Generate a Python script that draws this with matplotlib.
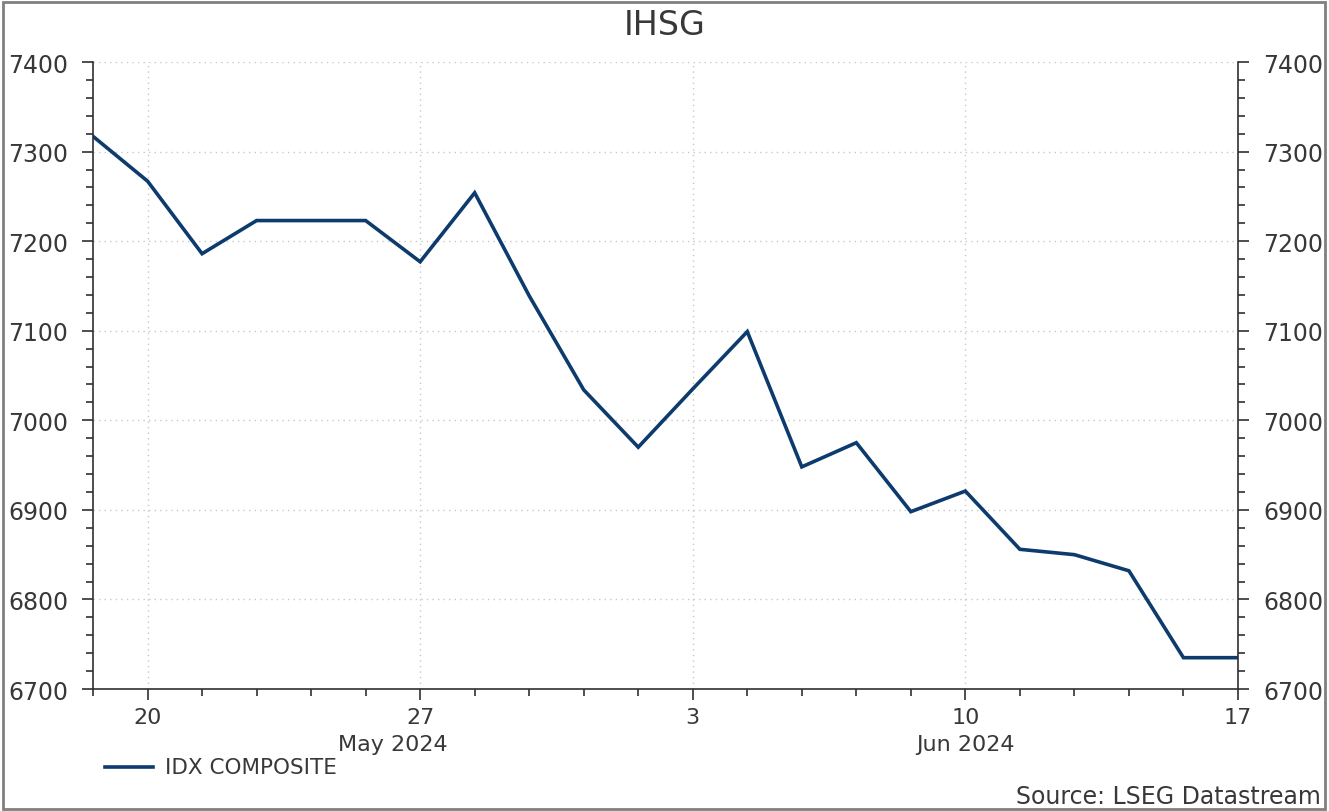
import numpy as np
import pandas as pd
import matplotlib.pyplot as plt
from matplotlib.ticker import MultipleLocator, FixedLocator
from matplotlib.lines import Line2D
from matplotlib.patches import Rectangle

plt.rcParams['font.family'] = ['DejaVu Sans']

# IDX composite daily close (business days only)
dates = ['2024-05-17', '2024-05-20', '2024-05-21', '2024-05-22', '2024-05-23',
         '2024-05-24', '2024-05-27', '2024-05-28', '2024-05-29', '2024-05-30',
         '2024-05-31', '2024-06-03', '2024-06-04', '2024-06-05', '2024-06-06',
         '2024-06-07', '2024-06-10', '2024-06-11', '2024-06-12', '2024-06-13',
         '2024-06-14', '2024-06-17']
close = [7317, 7267, 7186, 7223, 7223, 7223, 7177, 7254, 7139, 7034,
         6970, 7035, 7099, 6948, 6975, 6898, 6921, 6856, 6850, 6832,
         6735, 6735]
tick_dates = ['2024-05-20', '2024-05-27', '2024-06-03', '2024-06-10', '2024-06-17']
month_labels = ['May 2024', 'Jun 2024']
month_pos = [5.5, 16]

dates = pd.to_datetime(dates)
x = np.arange(len(dates))
tick_idx = [list(dates).index(pd.Timestamp(d)) for d in tick_dates]
tick_lbl = [str(pd.Timestamp(d).day) for d in tick_dates]

txt = '#383838'
navy = '#0d3b6e'

fig = plt.figure(figsize=(13.29, 8.12), dpi=100)
ax = fig.add_axes([0.0700, 0.1502, 0.8615, 0.7722])

ax.plot(x, close, color=navy, lw=2.6, solid_joinstyle='miter')

ax.set_xlim(0, len(x) - 1)
ax.set_ylim(6700, 7400)
ax.yaxis.set_major_locator(MultipleLocator(100))
ax.yaxis.set_minor_locator(MultipleLocator(20))
ax.xaxis.set_major_locator(FixedLocator(tick_idx))
ax.xaxis.set_minor_locator(FixedLocator(x))
ax.set_xticklabels(tick_lbl)

ax.grid(True, which='major', color='#c8c8c8', ls=(0, (1, 3)), lw=1)
ax.spines['top'].set_visible(False)
for s in ['left', 'right', 'bottom']:
    ax.spines[s].set_color('#303030')
    ax.spines[s].set_linewidth(1.2)

ax.tick_params(which='both', colors='#303030', labelcolor=txt,
               direction='out', left=True, right=True, labelleft=True, labelright=True)
ax.tick_params(which='major', length=8, width=1.2)
ax.tick_params(which='minor', length=5, width=1.2)
ax.tick_params(axis='x', pad=5, labelsize=16)
ax.tick_params(axis='y', pad=10, labelsize=17)

for lbl, pos in zip(month_labels, month_pos):
    ax.text(pos, -0.087, lbl, transform=ax.get_xaxis_transform(),
            ha='center', va='center', fontsize=16, color=txt)

fig.text(0.5, 0.968, 'IHSG', ha='center', va='center', fontsize=24, color=txt)

fig.add_artist(Line2D([105 / 1329, 153 / 1329], [1 - 768 / 812] * 2,
                      color=navy, lw=2.6))
fig.text(165 / 1329, 1 - 768 / 812, 'IDX COMPOSITE', ha='left', va='center',
         fontsize=15.5, color=txt)
fig.text(1321 / 1329, 1 - 797 / 812, 'Source: LSEG Datastream', ha='right',
         va='center', fontsize=17, color=txt)

fig.add_artist(Rectangle((0.002, 0.003), 0.995, 0.993, transform=fig.transFigure,
                         fill=False, ec='#808080', lw=2))

fig.savefig('out.png', dpi=100)
